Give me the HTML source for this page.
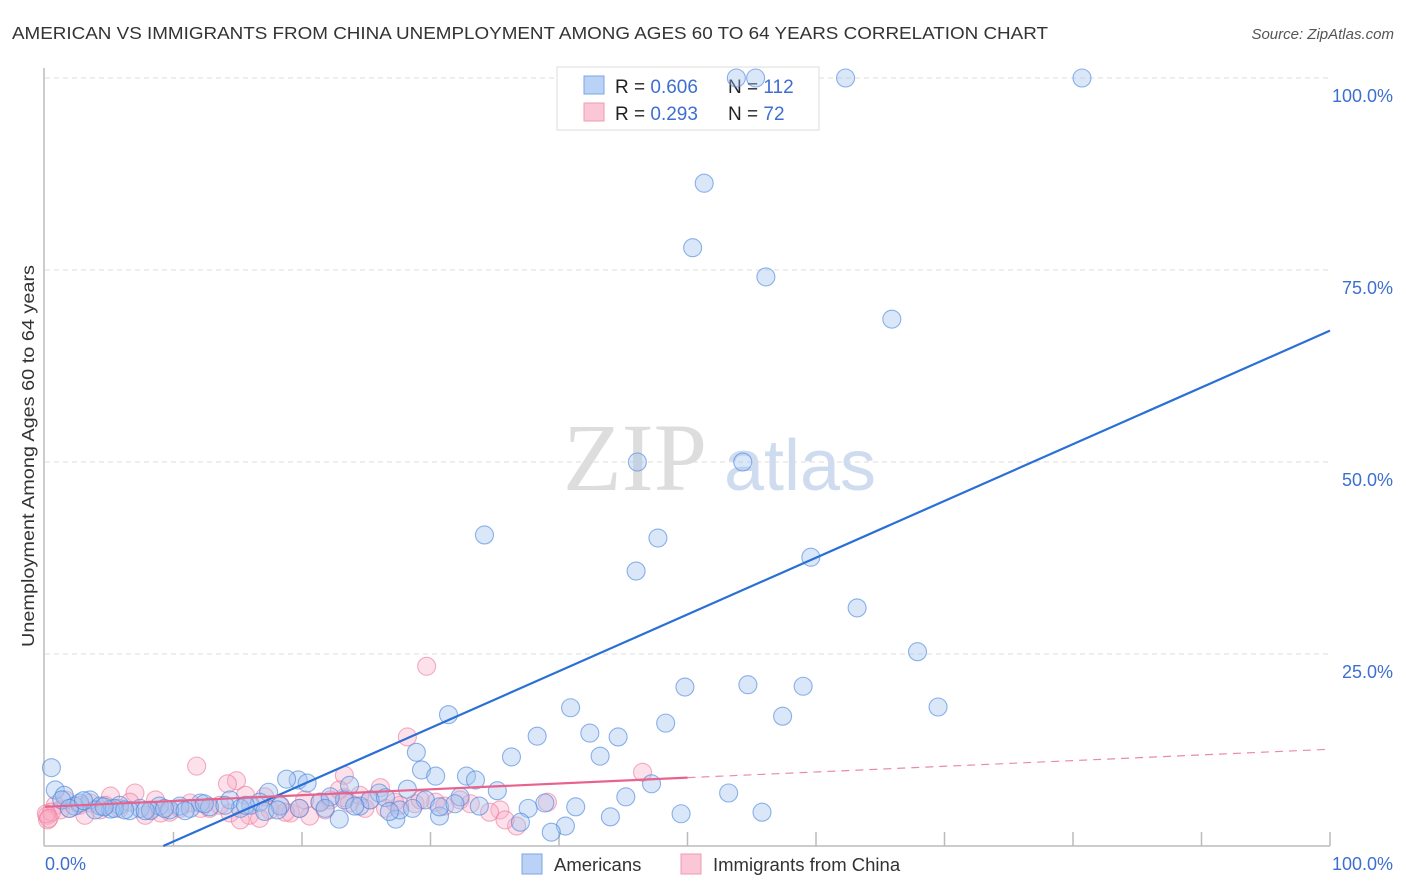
<!DOCTYPE html>
<html><head><meta charset="utf-8"><style>
body{margin:0;background:#fff;font-family:"Liberation Sans",sans-serif}
svg{display:block}
</style></head><body>
<svg width="1406" height="892" id="chart">
<text x="12" y="39" font-size="17.5" fill="#333" textLength="1036" lengthAdjust="spacingAndGlyphs">AMERICAN VS IMMIGRANTS FROM CHINA UNEMPLOYMENT AMONG AGES 60 TO 64 YEARS CORRELATION CHART</text>
<text x="1394" y="39" font-size="15" fill="#555" font-style="italic" text-anchor="end">Source: ZipAtlas.com</text>
<g>
<text x="635" y="490" font-size="96" fill="#ddd" font-family="Liberation Serif,serif" text-anchor="middle">ZIP</text>
<text x="800" y="490" font-size="72" fill="#cfdcf0" text-anchor="middle">atlas</text>
</g>
<g id="grid"></g>
<g id="axes"></g>
<g>
<rect x="557" y="67" width="262" height="63" fill="#fff" stroke="#ddd"/>
<rect x="584" y="76" width="20" height="18" fill="#b9d2f5" stroke="#7aa6e6"/>
<rect x="584" y="103" width="20" height="18" fill="#fbc6d5" stroke="#f09ab4"/>
<text x="615" y="93" font-size="19" fill="#222">R = <tspan fill="#3d6fd1">0.606</tspan></text>
<text x="728" y="93" font-size="19" fill="#222">N = <tspan fill="#3d6fd1">112</tspan></text>
<text x="615" y="120" font-size="19" fill="#222">R = <tspan fill="#3d6fd1"> 0.293</tspan></text>
<text x="728" y="120" font-size="19" fill="#222">N = <tspan fill="#3d6fd1"> 72</tspan></text>
</g>
<g id="pts"></g>
<g id="lines"></g>
<text transform="translate(34,456) rotate(-90)" font-size="17.5" fill="#333" text-anchor="middle" textLength="382" lengthAdjust="spacingAndGlyphs">Unemployment Among Ages 60 to 64 years</text>
<text x="45" y="870" font-size="18" fill="#3d6fd1">0.0%</text>
<text x="1393" y="870" font-size="18" fill="#3d6fd1" text-anchor="end">100.0%</text>
<g>
<rect x="522" y="854" width="20" height="20" fill="#b9d2f5" stroke="#7aa6e6"/>
<text x="554" y="871" font-size="18.5" fill="#333">Americans</text>
<rect x="681" y="854" width="20" height="20" fill="#fbc6d5" stroke="#f09ab4"/>
<text x="713" y="871" font-size="18.5" fill="#333">Immigrants from China</text>
</g>
</svg>
<script>
const yTicks=[25,50,75,100];
const yTickLabels=["25.0%","50.0%","75.0%","100.0%"];
const xTicks=[10,20,30,40,50,60,70,80,90,100];
const blueX=[53.8,55.3,62.3,80.7,51.3,50.4,56.1,65.9,46.1,54.3,34.2,47.7,46.0,59.6,63.2,67.9,49.8,54.7,59.0,69.5,40.9,31.4,57.4,48.3,38.3,42.4,44.6,28.9,36.3,43.2,0.5,29.3,30.4,32.8,33.5,47.2,19.7,20.4,18.8,23.7,53.2,28.2,35.2,32.3,45.2,26.0,0.8,1.5,3.5,17.4,23.3,38.9,41.3,33.8,37.6,49.5,55.8,44.0,30.7,22.9,27.3,37.0,40.5,39.4,12.1,14.4,16.0,5.8,7.4,8.9,10.5,4.3,2.3,5.1,6.6,8.2,9.7,11.3,12.8,15.2,16.7,18.3,19.8,21.4,22.2,24.5,25.3,26.5,27.6,29.6,30.7,2.7,1.3,1.9,3.9,5.4,6.2,7.8,9.3,10.9,12.4,14.0,15.6,17.1,18.1,21.8,24.1,26.8,28.6,31.9,3.0,4.6];
const blueY=[100,100,100,100,86.3,77.9,74.1,68.6,50.0,50.0,40.5,40.1,35.8,37.6,31.0,25.3,20.7,21.0,20.8,18.1,18.0,17.1,16.9,16.0,14.3,14.7,14.2,12.2,11.6,11.7,10.2,9.9,9.1,9.1,8.6,8.1,8.6,8.2,8.7,7.9,6.9,7.4,7.2,6.4,6.4,6.9,7.3,6.6,6.0,7.0,6.0,5.6,5.1,5.2,4.9,4.2,4.4,3.8,3.9,3.5,3.5,3.1,2.6,1.8,5.6,6.0,5.3,5.3,4.9,5.2,5.2,5.2,5.2,4.8,4.6,4.6,4.7,4.9,5.1,4.9,5.7,5.2,4.9,5.7,6.4,5.2,6.0,6.3,4.7,6.0,5.1,5.6,6.0,4.9,4.7,4.9,4.7,4.6,4.9,4.6,5.5,5.3,5.3,4.5,4.7,4.9,5.2,4.5,4.9,5.5,5.9,5.1];
const pinkX=[29.7,28.2,11.8,46.5,14.9,14.2,23.3,7.0,5.1,0.8,0.2,1.2,1.9,2.7,3.5,4.7,5.8,8.2,9.7,11.3,12.8,14.4,15.9,17.5,19.1,20.6,22.2,23.7,25.3,26.1,27.6,28.8,30.4,32.3,35.4,36.7,39.1,7.8,9.0,10.5,15.2,16.7,18.3,19.8,21.4,22.9,24.5,26.5,0.2,0.5,1.6,3.1,4.3,6.6,8.6,12.1,13.6,15.6,17.1,18.7,20.2,21.8,23.3,24.9,27.2,29.2,31.1,33.1,34.6,35.8,0.1,0.3];
const pinkY=[23.4,14.2,10.4,9.6,8.5,8.1,9.2,6.9,6.5,5.3,4.0,4.7,4.9,5.3,5.6,5.3,4.9,4.7,4.4,5.6,4.9,4.3,4.0,4.7,4.3,3.9,6.0,5.6,6.0,7.6,5.3,5.5,5.7,6.0,4.7,2.6,5.7,4.0,4.3,4.9,3.4,3.6,5.3,4.9,5.7,7.3,6.6,4.9,3.4,4.4,6.0,4.0,4.7,5.7,6.0,4.9,5.3,6.6,6.4,4.4,6.0,4.7,6.3,4.9,5.7,6.0,5.2,5.5,4.4,3.4,4.2,3.6];
const blueLine=[[9.2,0],[100,67.1]];
const pinkLine=[[0,5.1],[50,8.9]];
const pinkDash=[[50,8.9],[100,12.6]];
const X=v=>45+v*12.85, Y=v=>846-v*7.68;
const NS="http://www.w3.org/2000/svg";
function mk(tag,attrs,parent){const e=document.createElementNS(NS,tag);for(const k in attrs)e.setAttribute(k,attrs[k]);document.getElementById(parent).appendChild(e);return e;}
let t=mk('line',{x1:45,x2:1330,y1:Y(100),y2:Y(100),stroke:'#ddd','stroke-dasharray':'5,4'},'grid');


yTicks.forEach((v,i)=>{
  const g=mk('line',{x1:45,x2:1330,y1:Y(v),y2:Y(v),stroke:'#ddd','stroke-dasharray':'5,4'},'grid');
  
  
  const l=mk('text',{x:1393,y:Y(v)+24,'font-size':18,fill:'#3d6fd1','text-anchor':'end'},'grid');
  l.textContent=yTickLabels[i];
  
  
});
let ax=mk('line',{x1:44,x2:44,y1:68,y2:846,stroke:'#bbb','stroke-width':1.5},'axes');


let bx=mk('line',{x1:44,x2:1330,y1:846,y2:846,stroke:'#bbb','stroke-width':1.5},'axes');


xTicks.forEach(v=>{
  const k=mk('line',{x1:X(v),x2:X(v),y1:832,y2:846,stroke:'#bbb','stroke-width':1.5},'axes');
  
  
});
pinkX.forEach((x,i)=>{
  const c=mk('circle',{cx:X(x),cy:Y(pinkY[i]),r:9,fill:'rgba(248,170,195,0.35)',stroke:'rgba(236,120,155,0.6)','stroke-width':1.1},'pts');
  
  
});
blueX.forEach((x,i)=>{
  const c=mk('circle',{cx:X(x),cy:Y(blueY[i]),r:9,fill:'rgba(160,195,240,0.4)',stroke:'rgba(70,130,220,0.6)','stroke-width':1.1},'pts');
  
  
});
let bl=mk('line',{x1:X(blueLine[0][0]),y1:Y(blueLine[0][1]),x2:X(blueLine[1][0]),y2:Y(blueLine[1][1]),stroke:'#2a6fd6','stroke-width':2.2},'lines');


let pl=mk('line',{x1:X(pinkLine[0][0]),y1:Y(pinkLine[0][1]),x2:X(pinkLine[1][0]),y2:Y(pinkLine[1][1]),stroke:'#e8628c','stroke-width':2.2},'lines');


let pd=mk('line',{x1:X(pinkDash[0][0]),y1:Y(pinkDash[0][1]),x2:X(pinkDash[1][0]),y2:Y(pinkDash[1][1]),stroke:'#eb8aa8','stroke-width':1.2,'stroke-dasharray':'8,6'},'lines');


</script>
</body></html>
